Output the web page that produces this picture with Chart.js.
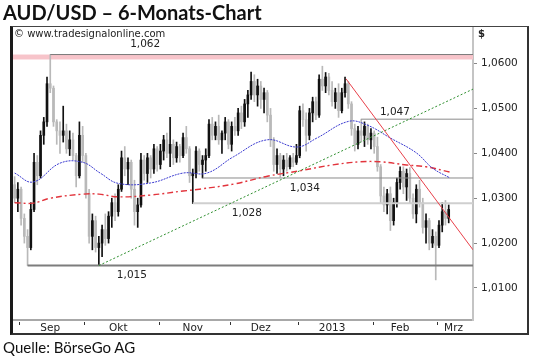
<!DOCTYPE html>
<html><head><meta charset="utf-8">
<script src="https://cdn.jsdelivr.net/npm/chart.js@4.4.1/dist/chart.umd.min.js"></script>
<style>
html,body{margin:0;padding:0;background:#fff;width:540px;height:360px;overflow:hidden}
#wrap{position:relative;width:540px;height:360px}
#c{position:absolute;left:0;top:0}
#title{position:absolute;left:3px;top:0px;font:bold 20px Lato, sans-serif;color:#111;white-space:nowrap}
#src{position:absolute;left:3px;top:338px;font:15px Lato, sans-serif;color:#111;white-space:nowrap}
#frame{position:absolute;left:10px;top:26px;width:514px;height:306px;border-left:3px solid #1a1a1a;border-top:1px solid #444;border-right:2px solid #333;border-bottom:2px solid #333;pointer-events:none}
</style></head>
<body><div id="wrap">
<canvas id="c" width="540" height="360"></canvas>
<div id="frame"></div>
<div id="title">AUD/USD – 6-Monats-Chart</div>
<div id="src">Quelle: BörseGo AG</div>
</div>
<script>
// ---- daily candles, Aug 30 2012 .. Mar 2013 ----
const openP = [
1.0330,1.0300,1.0320,1.0255,1.0215,1.0190,1.0275,1.0380,1.0350,1.0440,
1.0470,1.0555,1.0545,1.0470,1.0450,1.0440,1.0450,1.0410,1.0430,1.0395,
1.0350,1.0440,1.0395,1.0310,1.0215,1.0250,1.0190,1.0200,1.0230,1.0210,
1.0260,1.0290,1.0270,1.0320,1.0390,1.0365,1.0380,1.0320,1.0270,1.0285,
1.0385,1.0355,1.0390,1.0365,1.0410,1.0375,1.0405,1.0430,1.0400,1.0420,
1.0390,1.0415,1.0395,1.0435,1.0410,1.0350,1.0355,1.0405,1.0375,1.0385,
1.0395,1.0465,1.0440,1.0460,1.0430,1.0445,1.0470,1.0420,1.0460,1.0450,
1.0490,1.0470,1.0510,1.0530,1.0560,1.0530,1.0550,1.0520,1.0535,1.0485,
1.0430,1.0375,1.0395,1.0365,1.0385,1.0370,1.0390,1.0380,1.0395,1.0495,
1.0475,1.0440,1.0490,1.0515,1.0485,1.0565,1.0550,1.0570,1.0540,1.0515,
1.0535,1.0495,1.0535,1.0555,1.0510,1.0455,1.0420,1.0450,1.0440,1.0460,
1.0430,1.0445,1.0415,1.0370,1.0305,1.0285,1.0310,1.0250,1.0290,1.0335,
1.0360,1.0325,1.0355,1.0300,1.0265,1.0320,1.0290,1.0235,1.0250,1.0200,
1.0215,1.0195,1.0240,1.0270,1.0255];
const highP = [
1.0348,1.0335,1.0325,1.0265,1.0230,1.0290,1.0400,1.0395,1.0450,1.0480,
1.0570,1.0620,1.0550,1.0475,1.0470,1.0505,1.0465,1.0450,1.0445,1.0400,
1.0470,1.0460,1.0400,1.0320,1.0265,1.0260,1.0215,1.0240,1.0265,1.0270,
1.0300,1.0310,1.0330,1.0405,1.0415,1.0390,1.0385,1.0340,1.0300,1.0400,
1.0395,1.0400,1.0395,1.0420,1.0415,1.0420,1.0440,1.0445,1.0480,1.0430,
1.0425,1.0420,1.0445,1.0460,1.0415,1.0365,1.0415,1.0410,1.0395,1.0410,
1.0475,1.0480,1.0470,1.0485,1.0450,1.0480,1.0475,1.0470,1.0480,1.0500,
1.0505,1.0520,1.0540,1.0581,1.0575,1.0565,1.0560,1.0545,1.0540,1.0500,
1.0435,1.0410,1.0400,1.0395,1.0400,1.0395,1.0400,1.0420,1.0505,1.0510,
1.0490,1.0500,1.0525,1.0525,1.0575,1.0594,1.0580,1.0578,1.0560,1.0545,
1.0555,1.0545,1.0570,1.0560,1.0515,1.0465,1.0460,1.0476,1.0470,1.0465,
1.0455,1.0450,1.0436,1.0375,1.0325,1.0320,1.0325,1.0300,1.0345,1.0370,
1.0370,1.0365,1.0368,1.0310,1.0330,1.0340,1.0300,1.0265,1.0255,1.0230,
1.0225,1.0250,1.0290,1.0295,1.0285];
const lowP = [
1.0290,1.0270,1.0240,1.0200,1.0150,1.0185,1.0270,1.0330,1.0345,1.0420,
1.0460,1.0535,1.0460,1.0420,1.0400,1.0425,1.0400,1.0395,1.0385,1.0325,
1.0345,1.0380,1.0300,1.0200,1.0185,1.0180,1.0150,1.0170,1.0195,1.0200,
1.0235,1.0250,1.0260,1.0315,1.0350,1.0330,1.0300,1.0240,1.0235,1.0280,
1.0340,1.0335,1.0345,1.0355,1.0360,1.0365,1.0385,1.0390,1.0370,1.0375,
1.0380,1.0380,1.0390,1.0400,1.0335,1.0288,1.0345,1.0360,1.0345,1.0360,
1.0390,1.0430,1.0430,1.0420,1.0400,1.0430,1.0410,1.0405,1.0440,1.0440,
1.0455,1.0460,1.0480,1.0520,1.0515,1.0505,1.0500,1.0490,1.0470,1.0415,
1.0360,1.0355,1.0347,1.0350,1.0360,1.0365,1.0370,1.0375,1.0390,1.0460,
1.0405,1.0430,1.0470,1.0475,1.0480,1.0540,1.0535,1.0530,1.0505,1.0500,
1.0480,1.0490,1.0525,1.0500,1.0440,1.0405,1.0410,1.0425,1.0415,1.0420,
1.0410,1.0400,1.0360,1.0290,1.0270,1.0265,1.0228,1.0240,1.0280,1.0320,
1.0310,1.0295,1.0290,1.0255,1.0245,1.0280,1.0222,1.0200,1.0185,1.0190,
1.0118,1.0190,1.0225,1.0240,1.0245];
const closeP = [
1.0300,1.0320,1.0255,1.0215,1.0190,1.0275,1.0380,1.0350,1.0440,1.0470,
1.0555,1.0545,1.0470,1.0450,1.0440,1.0450,1.0410,1.0430,1.0395,1.0350,
1.0440,1.0395,1.0310,1.0215,1.0250,1.0190,1.0200,1.0230,1.0210,1.0260,
1.0290,1.0270,1.0320,1.0390,1.0365,1.0380,1.0320,1.0270,1.0285,1.0385,
1.0355,1.0390,1.0365,1.0410,1.0375,1.0405,1.0430,1.0400,1.0420,1.0390,
1.0415,1.0395,1.0435,1.0410,1.0350,1.0355,1.0405,1.0375,1.0385,1.0395,
1.0465,1.0440,1.0460,1.0430,1.0445,1.0470,1.0420,1.0460,1.0450,1.0490,
1.0470,1.0510,1.0530,1.0560,1.0530,1.0550,1.0520,1.0535,1.0485,1.0430,
1.0375,1.0395,1.0365,1.0385,1.0370,1.0390,1.0380,1.0395,1.0495,1.0475,
1.0440,1.0490,1.0515,1.0485,1.0565,1.0550,1.0570,1.0540,1.0515,1.0535,
1.0495,1.0535,1.0555,1.0510,1.0455,1.0420,1.0450,1.0440,1.0460,1.0430,
1.0445,1.0415,1.0370,1.0305,1.0285,1.0310,1.0250,1.0290,1.0335,1.0360,
1.0325,1.0355,1.0300,1.0265,1.0320,1.0290,1.0235,1.0250,1.0200,1.0215,
1.0195,1.0240,1.0270,1.0255,1.0275];

// ---- moving averages (candle index, value) ----
const blueMaX = [0, 5.7, 14, 21, 26.4, 32, 42, 52, 59.4, 67.5, 77.9, 87.2, 93.3, 103, 108.8, 116, 124, 129, 134.4];
const blueMaY = [1.0356,1.0336,1.0378,1.0380,1.0356,1.0333,1.0334,1.0356,1.0356,1.0392,1.0430,1.0414,1.0434,1.0471,1.0463,1.0434,1.0401,1.0367,1.0345];
const redMaX = [0, 5.7, 11, 21, 26, 32, 42, 52, 57, 68, 78, 88, 98, 106.6, 113, 121, 127, 134.4];
const redMaY = [1.0290,1.0289,1.0300,1.0309,1.0309,1.0303,1.0307,1.0316,1.0320,1.0332,1.0349,1.0361,1.0374,1.0381,1.0381,1.0374,1.0370,1.0358];

// ---- trend lines (index, value) ----
const greenTrendX = [26, 141.5];
const greenTrendY = [1.0150, 1.0543];
const redTrendX = [102.3, 141.5];
const redTrendY = [1.0566, 1.0185];

// ---- horizontal levels ----
const levelPrices = [1.0620, 1.0476, 1.0345, 1.0289, 1.0150];
const levelStart  = [11, 107, 58, 55, 4];
const levelLabels = ['1,062', '1,047', '1,034', '1,028', '1,015'];
const bandTop = 1.0620, bandBottom = 1.0609;

// ---- axes ----
const yTicks = [1.01, 1.02, 1.03, 1.04, 1.05, 1.06];
const monthLabels = ['Sep', 'Okt', 'Nov', 'Dez', '2013', 'Feb', 'Mrz'];
const monthLabelAt = [11, 32, 55, 76, 98, 119, 135.5];
const monthBounds = [1.5, 21.5, 44.5, 66.5, 87.5, 110.5, 130.5];
const xEnd = 141.5;

// layout-only settings
const levelLabelAt = [40.3, 117.4, 89.6, 71.7, 36.2];
const levelLabelDy = [-10.5, -7, 10, 10, 10];
const levelColors = ['#7a7a7a', '#8a8a8a', '#8a8a8a', '#cfcfcf', '#7d7d7d'];
const levelWidths = [1, 1, 1, 2, 2];

const UP = '#111111', DOWN = '#b9b9b9';
const candleColor = openP.map((o, i) => closeP[i] >= o ? UP : DOWN);

const datasets = [];
levelPrices.forEach((v, k) => {
  datasets.push({type: 'line', data: [{x: levelStart[k], y: v}, {x: xEnd, y: v}],
    borderColor: levelColors[k], borderWidth: levelWidths[k], pointRadius: 0, order: 5});
});
datasets.push({type: 'line', data: redMaX.map((x, i) => ({x, y: redMaY[i]})),
  borderColor: '#e2343c', borderWidth: 1.4, borderDash: [6, 3, 2, 3], pointRadius: 0, tension: 0.4, order: 4});
datasets.push({type: 'line', data: blueMaX.map((x, i) => ({x, y: blueMaY[i]})),
  borderColor: '#3a3ad0', borderWidth: 1, borderDash: [2, 1], pointRadius: 0, tension: 0.4, order: 3});
datasets.push({type: 'line', data: greenTrendX.map((x, i) => ({x, y: greenTrendY[i]})),
  borderColor: '#2f8f2f', borderWidth: 1, borderDash: [2, 2], pointRadius: 0, order: 2});
datasets.push({type: 'line', data: redTrendX.map((x, i) => ({x, y: redTrendY[i]})),
  borderColor: '#e8404a', borderWidth: 1, pointRadius: 0, order: 1});
datasets.push({type: 'bar', data: openP.map((o, i) => ({x: i, y: [lowP[i], highP[i]]})),
  backgroundColor: candleColor, barThickness: 1, grouped: false, order: 7});
datasets.push({type: 'bar', data: openP.map((o, i) => ({x: i, y: [Math.min(o, closeP[i]), Math.max(o, closeP[i])]})),
  backgroundColor: candleColor, barThickness: 2, minBarLength: 1, grouped: false, order: 6});

const overlay = {
  id: 'overlay',
  beforeDatasetsDraw(chart) {
    const {ctx, chartArea: a, scales: {y}} = chart;
    ctx.save();
    ctx.fillStyle = '#f7c4ca';
    const y1 = y.getPixelForValue(bandTop), y2 = y.getPixelForValue(bandBottom);
    ctx.fillRect(a.left, y1, a.right - a.left, y2 - y1);
    ctx.restore();
  },
  afterDraw(chart) {
    const {ctx, chartArea: a, scales: {x, y}} = chart;
    ctx.save();
    ctx.fillStyle = '#222';
    ctx.font = '10.5px "DejaVu Sans"';
    ctx.textAlign = 'center';
    ctx.textBaseline = 'middle';
    levelLabels.forEach((t, k) => {
      ctx.fillText(t, x.getPixelForValue(levelLabelAt[k]), y.getPixelForValue(levelPrices[k]) + levelLabelDy[k]);
    });
    ctx.textAlign = 'left';
    ctx.font = 'bold 10px "DejaVu Sans"';
    ctx.fillText('$', a.right + 5, a.top + 6);
    ctx.font = '10px "DejaVu Sans"';
    ctx.fillText('© www.tradesignalonline.com', a.left + 1, a.top + 6);
    ctx.strokeStyle = '#333';
    ctx.lineWidth = 1;
    monthBounds.forEach(b => {
      const px = Math.round(x.getPixelForValue(b)) + 0.5;
      ctx.beginPath(); ctx.moveTo(px, a.bottom + 2); ctx.lineTo(px, a.bottom + 5); ctx.stroke();
    });
    ctx.restore();
  }
};

new Chart(document.getElementById('c'), {
  type: 'bar',
  data: {datasets},
  plugins: [overlay],
  options: {
    responsive: false, animation: false, devicePixelRatio: 1,
    layout: {padding: {left: 13, top: 28, right: 0, bottom: 0}},
    plugins: {legend: {display: false}, tooltip: {enabled: false}},
    scales: {
      x: {
        type: 'linear', min: -0.5, max: xEnd, offset: false,
        grid: {display: false, drawTicks: false, offset: false},
        border: {display: true, color: '#a8a8a8', width: 2},
        afterBuildTicks: s => { s.ticks = monthLabelAt.map(v => ({value: v})); },
        afterFit: s => { s.height = 40; },
        ticks: {autoSkip: false, maxRotation: 0, padding: 2, color: '#222',
          font: {family: 'DejaVu Sans', size: 10.5},
          callback: (v) => monthLabels[monthLabelAt.indexOf(v)] || ''}
      },
      y: {
        position: 'right', min: 1.00287, max: 1.06791,
        grid: {display: true, drawOnChartArea: false, drawTicks: true, tickLength: 4, color: '#888'},
        border: {display: true, color: '#c4c4c4', width: 2},
        afterBuildTicks: s => { s.ticks = yTicks.map(v => ({value: v})); },
        afterFit: s => { s.width = 67; },
        ticks: {padding: 4, color: '#222', font: {family: 'DejaVu Sans', size: 10.5},
          callback: v => v.toFixed(4).replace('.', ',')}
      }
    }
  }
});
</script>
</body></html>
